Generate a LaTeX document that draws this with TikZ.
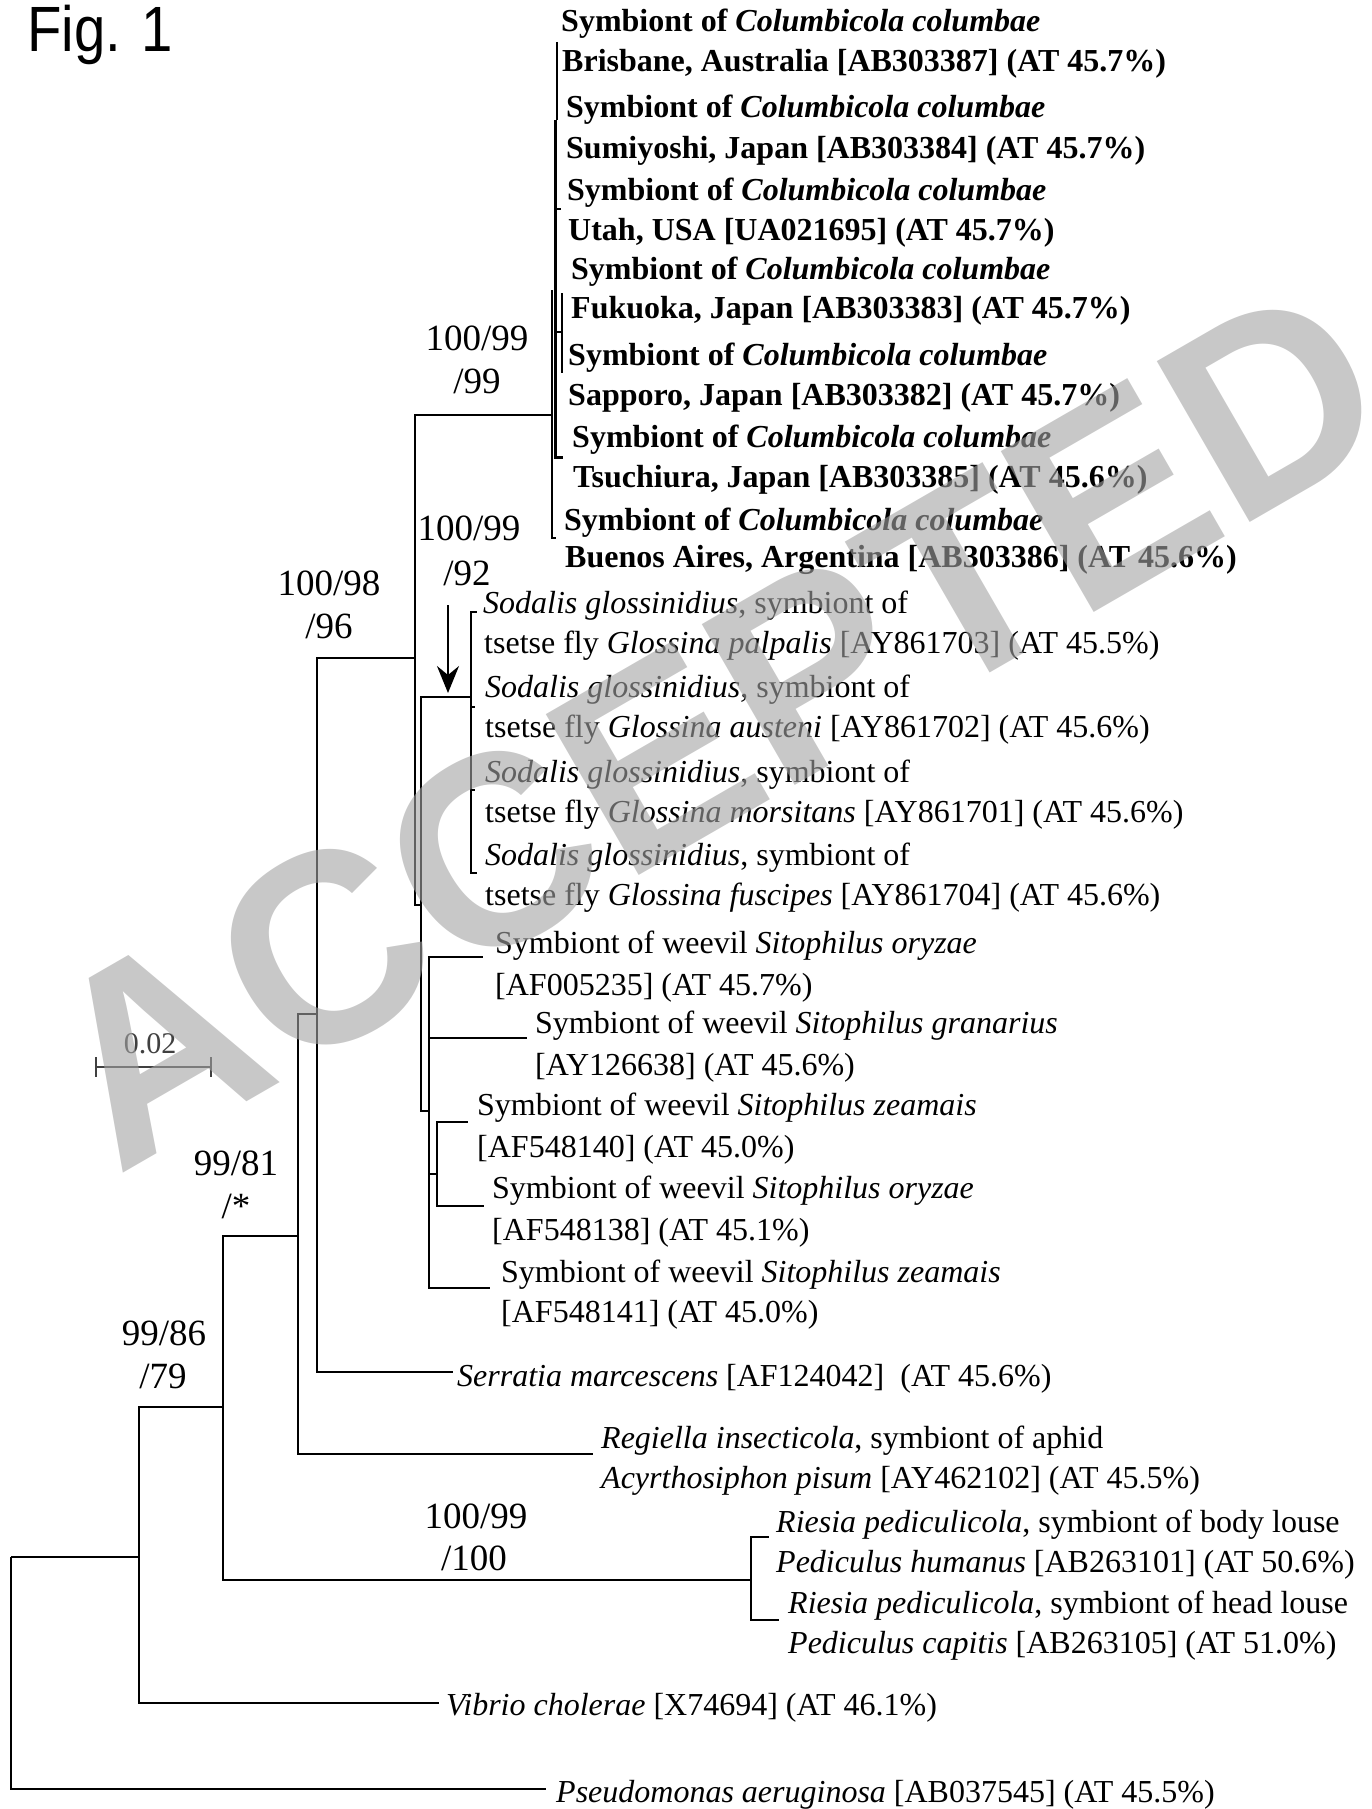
\documentclass[tikz,border=0pt]{standalone}
\usepackage{fontspec}
\setmainfont{Liberation Serif}
\newfontfamily\sansfig{Liberation Sans}
\usetikzlibrary{arrows.meta}
\tikzset{
  leaf/.style={anchor=base west, inner sep=0pt, font=\fontsize{32}{36}\selectfont},
  bleaf/.style={leaf, font=\fontsize{32}{36}\selectfont\bfseries},
  support/.style={anchor=base, inner sep=0pt, font=\fontsize{37}{40}\selectfont},
  branch/.style={line width=2.2pt},
}
\begin{document}
\begin{tikzpicture}[x=1pt,y=-1pt]
\useasboundingbox (0,0) rectangle (1372,1809);
% ---- tree coordinates
\coordinate (R) at (11,1557);
\coordinate (A) at (139,1557);
\coordinate (pse) at (546,1789);
\coordinate (B) at (223,1407);
\coordinate (vib) at (439,1703);
\coordinate (C) at (298,1236);
\coordinate (RI) at (751,1580);
\coordinate (ri1) at (769,1537);
\coordinate (ri2) at (779,1620);
\coordinate (D) at (317,1014);
\coordinate (reg) at (593,1454);
\coordinate (E) at (415,658);
\coordinate (ser) at (453,1372);
\coordinate (Col) at (552,415);
\coordinate (F) at (421,905);
\coordinate (Sod) at (471,697);
\coordinate (s1) at (477,612);
\coordinate (s2) at (475,707);
\coordinate (s3) at (475,790);
\coordinate (s4) at (477,873);
\coordinate (G) at (429,1111);
\coordinate (g1) at (483,957);
\coordinate (g2) at (527,1038);
\coordinate (H) at (437,1174);
\coordinate (g5) at (490,1288);
\coordinate (h1) at (468,1122);
\coordinate (h2) at (484,1206);
% Columbicola clade
\coordinate (cA) at (557,42);
\coordinate (cB) at (557,120);
\coordinate (cC) at (555,120);
\coordinate (cD) at (555,457);
\coordinate (cE) at (563,457);
\coordinate (cU) at (561,209);
\coordinate (cF) at (562,332);
\coordinate (cF1) at (562,293);
\coordinate (cF2) at (562,373);
\coordinate (cG) at (552,290);
\coordinate (cH) at (556,538);
% ---- branches
\draw[branch] (R) |- (A);
\draw[branch] (R) |- (pse);
\draw[branch] (A) |- (B);
\draw[branch] (A) |- (vib);
\draw[branch] (B) |- (C);
\draw[branch] (B) |- (RI);
\draw[branch] (RI) |- (ri1);
\draw[branch] (RI) |- (ri2);
\draw[branch] (C) |- (D);
\draw[branch] (C) |- (reg);
\draw[branch] (D) |- (E);
\draw[branch] (D) |- (ser);
\draw[branch] (E) |- (Col);
\draw[branch] (E) |- (F);
\draw[branch] (F) |- (Sod);
\draw[branch] (F) |- (G);
\draw[branch] (Sod) |- (s1);
\draw[branch] (Sod) |- (s2);
\draw[branch] (Sod) |- (s3);
\draw[branch] (Sod) |- (s4);
\draw[branch] (G) |- (g1);
\draw[branch] (G) |- (g2);
\draw[branch] (G) |- (H);
\draw[branch] (G) |- (g5);
\draw[branch] (H) |- (h1);
\draw[branch] (H) |- (h2);
\draw[line width=1.6pt] (cA) -- (cB);
\draw[line width=3pt] (cC) -- (cD) -- (cE);
\draw[branch] (cC |- cU) -- (cU);
\draw[branch] (cC |- cF) -- (cF);
\draw[line width=1.6pt] (cF1) -- (cF2);
\draw[line width=2.6pt] (cG) |- (cH);
% ---- arrow
\coordinate (arrS) at (448,605);
\coordinate (arrE) at (448,693);
\draw[line width=2pt, -{Stealth[length=27pt,width=22pt,inset=9pt]}] (arrS) -- (arrE);
% ---- scale bar
\coordinate (sbL) at (96,1067);
\coordinate (sbR) at (211,1067);
\draw[line width=2pt, black!75] (sbL) -- (sbR);
\draw[line width=2pt, black!75] ([yshift=10pt]sbL) -- ([yshift=-10pt]sbL);
\draw[line width=2pt, black!75] ([yshift=10pt]sbR) -- ([yshift=-10pt]sbR);
\node[anchor=base, inner sep=0pt, font=\fontsize{30}{32}\selectfont, text=black!75] (sbt) at (150,1053) {0.02};
% ---- title
\node[anchor=base west, inner sep=0pt, font=\fontsize{64}{70}\selectfont\sansfig] (fig) at (27,52) {\scalebox{0.88}[1]{Fig. 1}};
% ---- Columbicola labels
\node[bleaf] (c1a) at (561,32) {Symbiont of \textit{Columbicola columbae}};
\node[bleaf] (c1b) at (562,72) {Brisbane, Australia [AB303387] (AT 45.7\%)};
\node[bleaf] (c2a) at (566,118) {Symbiont of \textit{Columbicola columbae}};
\node[bleaf] (c2b) at (566,158) {Sumiyoshi, Japan [AB303384] (AT 45.7\%)};
\node[bleaf] (c3a) at (567,200) {Symbiont of \textit{Columbicola columbae}};
\node[bleaf] (c3b) at (568,240) {Utah, USA [UA021695] (AT 45.7\%)};
\node[bleaf] (c4a) at (571,279) {Symbiont of \textit{Columbicola columbae}};
\node[bleaf] (c4b) at (571,318) {Fukuoka, Japan [AB303383] (AT 45.7\%)};
\node[bleaf] (c5a) at (568,365) {Symbiont of \textit{Columbicola columbae}};
\node[bleaf] (c5b) at (568,405) {Sapporo, Japan [AB303382] (AT 45.7\%)};
\node[bleaf] (c6a) at (572,447) {Symbiont of \textit{Columbicola columbae}};
\node[bleaf] (c6b) at (573,487) {Tsuchiura, Japan [AB303385] (AT 45.6\%)};
\node[bleaf] (c7a) at (564,530) {Symbiont of \textit{Columbicola columbae}};
\node[bleaf] (c7b) at (565,567) {Buenos Aires, Argentina [AB303386] (AT 45.6\%)};
% ---- Sodalis labels
\node[leaf] (s1a) at (483,613) {\textit{Sodalis glossinidius}, symbiont of};
\node[leaf] (s1b) at (484,653) {tsetse fly \textit{Glossina palpalis} [AY861703] (AT 45.5\%)};
\node[leaf] (s2a) at (485,697) {\textit{Sodalis glossinidius,} symbiont of};
\node[leaf] (s2b) at (485,737) {tsetse fly \textit{Glossina austeni} [AY861702] (AT 45.6\%)};
\node[leaf] (s3a) at (485,782) {\textit{Sodalis glossinidius}, symbiont of};
\node[leaf] (s3b) at (485,822) {tsetse fly \textit{Glossina morsitans} [AY861701] (AT 45.6\%)};
\node[leaf] (s4a) at (485,865) {\textit{Sodalis glossinidius}, symbiont of};
\node[leaf] (s4b) at (485,905) {tsetse fly \textit{Glossina fuscipes} [AY861704] (AT 45.6\%)};
% ---- Sitophilus labels
\node[leaf] (w1a) at (495,953) {Symbiont of weevil \textit{Sitophilus oryzae}};
\node[leaf] (w1b) at (495,995) {[AF005235] (AT 45.7\%)};
\node[leaf] (w2a) at (535,1033) {Symbiont of weevil \textit{Sitophilus granarius}};
\node[leaf] (w2b) at (535,1075) {[AY126638] (AT 45.6\%)};
\node[leaf] (w3a) at (477,1115) {Symbiont of weevil \textit{Sitophilus zeamais}};
\node[leaf] (w3b) at (477,1157) {[AF548140] (AT 45.0\%)};
\node[leaf] (w4a) at (492,1198) {Symbiont of weevil \textit{Sitophilus oryzae}};
\node[leaf] (w4b) at (492,1240) {[AF548138] (AT 45.1\%)};
\node[leaf] (w5a) at (501,1282) {Symbiont of weevil \textit{Sitophilus zeamais}};
\node[leaf] (w5b) at (501,1322) {[AF548141] (AT 45.0\%)};
% ---- other labels
\node[leaf] (serl) at (457,1386) {\textit{Serratia marcescens} [AF124042]\ \ (AT 45.6\%)};
\node[leaf] (r1) at (601,1448) {\textit{Regiella insecticola}, symbiont of aphid};
\node[leaf] (r2) at (601,1488) {\textit{Acyrthosiphon pisum} [AY462102] (AT 45.5\%)};
\node[leaf] (p1) at (776,1532) {\textit{Riesia pediculicola}, symbiont of body louse};
\node[leaf] (p2) at (776,1572) {\textit{Pediculus humanus} [AB263101] (AT 50.6\%)};
\node[leaf] (p3) at (788,1613) {\textit{Riesia pediculicola}, symbiont of head louse};
\node[leaf] (p4) at (788,1653) {\textit{Pediculus capitis} [AB263105] (AT 51.0\%)};
\node[leaf] (vibl) at (446,1715) {\textit{Vibrio cholerae} [X74694] (AT 46.1\%)};
\node[leaf] (psel) at (556,1802) {\textit{Pseudomonas aeruginosa} [AB037545] (AT 45.5\%)};
% ---- support values
\node[support] (u1a) at (477,350) {100/99};
\node[support] (u1b) at (477,393) {/99};
\node[support] (u2a) at (469,540) {100/99};
\node[support] (u2b) at (467,585) {/92};
\node[support] (u3a) at (329,595) {100/98};
\node[support] (u3b) at (329,638) {/96};
\node[support] (u4a) at (236,1175) {99/81};
\node[support] (u4b) at (236,1218) {/*};
\node[support] (u5a) at (164,1345) {99/86};
\node[support] (u5b) at (163,1388) {/79};
\node[support] (u6a) at (476,1528) {100/99};
\node[support] (u6b) at (474,1570) {/100};
% ---- watermark
\node[rotate=30, anchor=base west, inner sep=0pt, font=\fontsize{270}{280}\selectfont\sansfig\bfseries, text=black!36, opacity=0.6] (wm) at (117,1177) {ACCEPTED};
\end{tikzpicture}
\end{document}
